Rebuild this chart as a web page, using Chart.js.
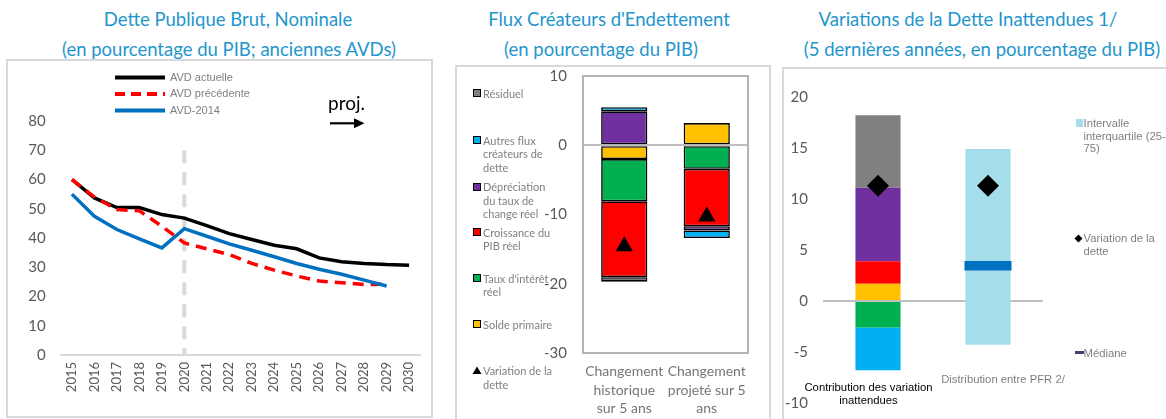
<!DOCTYPE html>
<html><head><meta charset="utf-8">
<script src="https://cdn.jsdelivr.net/npm/chart.js@4.4.0/dist/chart.umd.min.js"></script>
<style>
html,body{margin:0;padding:0;background:#fff}
body{width:1166px;height:419px;overflow:hidden;position:relative;font-family:Lato,sans-serif}
.title{position:absolute;color:#1F96CC;font-size:18.5px;line-height:22px;white-space:nowrap;transform:translateX(-50%)}
.box{position:absolute;border:2px solid #D9D9D9;box-sizing:border-box}
canvas{position:absolute}
.lg1{position:absolute;color:#808080;font:11px 'Liberation Sans',Arial,sans-serif;white-space:nowrap;line-height:13px}
.lg2{position:absolute;color:#808080;font-size:11px;line-height:13.5px;white-space:nowrap}
.sw{position:absolute;width:6px;height:6px;border:1.5px solid #000}
.lg3{position:absolute;color:#808080;font:11.3px 'Liberation Sans',Arial,sans-serif;line-height:12.5px;white-space:nowrap}
</style></head><body>

<!-- titles -->
<div class="title" style="left:228px;top:8px">Dette Publique Brut, Nominale</div>
<div class="title" style="left:229px;top:38px">(en pourcentage du PIB; anciennes AVDs)</div>
<div class="title" style="left:609px;top:8px">Flux Créateurs d'Endettement</div>
<div class="title" style="left:601px;top:38px">(en pourcentage du PIB)</div>
<div class="title" style="left:968px;top:8px">Variations de la Dette Inattendues 1/</div>
<div class="title" style="left:982px;top:38px">(5 dernières années, en pourcentage du PIB)</div>

<!-- panel boxes -->
<div class="box" style="left:6px;top:59px;width:427px;height:359px"></div>
<div class="box" style="left:455px;top:65px;width:316px;height:370px"></div>
<div class="box" style="left:782px;top:67px;width:400px;height:370px"></div>

<canvas id="c1" width="425" height="355" style="left:7px;top:60px"></canvas>
<canvas id="c2" width="314" height="353" style="left:456px;top:66px"></canvas>
<canvas id="c3" width="383" height="351" style="left:783px;top:68px"></canvas>

<!-- panel 1 legend -->
<svg style="position:absolute;left:0;top:0" width="440" height="140">
  <line x1="115" y1="77.5" x2="165" y2="77.5" stroke="#000" stroke-width="4"/>
  <line x1="115" y1="94" x2="165" y2="94" stroke="#FF0000" stroke-width="4" stroke-dasharray="10,6"/>
  <line x1="115" y1="110.5" x2="165" y2="110.5" stroke="#0070C0" stroke-width="4"/>
  <line x1="330" y1="123.3" x2="356" y2="123.3" stroke="#000" stroke-width="2.2"/>
  <polygon points="354,118.3 364.5,123.3 354,128.3" fill="#000"/>
</svg>
<div class="lg1" style="left:170px;top:71px">AVD actuelle</div>
<div class="lg1" style="left:170px;top:87px">AVD précédente</div>
<div class="lg1" style="left:170px;top:104px">AVD-2014</div>
<div style="position:absolute;left:328px;top:92px;font-size:19px;line-height:22px;color:#000">proj.</div>

<div id="leg2"></div>
<div id="leg3"></div>
<div id="xl3"></div>

<script>
// ---------- Panel 1 data ----------
const years = ['2015','2016','2017','2018','2019','2020','2021','2022','2023','2024','2025','2026','2027','2028','2029','2030'];
const avdActuelle   = [60, 53.7, 50.4, 50.4, 48.0, 46.8, 44.2, 41.5, 39.5, 37.5, 36.3, 33.2, 31.9, 31.3, 30.9, 30.7];
const avdPrecedente = [60, 54.0, 49.7, 49.3, 44.0, 38.3, 36.3, 34.3, 31.3, 29.0, 27.0, 25.3, 24.7, 24.1, 24.2];
const avd2014       = [55, 47.4, 42.9, 39.7, 36.6, 43.2, 40.6, 38.0, 35.8, 33.6, 31.3, 29.3, 27.6, 25.6, 23.6];
const projYear = '2020';

// ---------- Panel 2 data ----------
const fluxCategories = [['Changement','historique','sur 5 ans'], ['Changement','projeté sur 5','ans']];
const soldePrimaire  = [-2.0, 3.2];
const tauxInteret    = [-6.1, -3.4];
const croissancePIB  = [-10.95, -8.3];
const depreciation   = [4.9, -0.6];
const autresFlux     = [0.6, -1.1];
const residuel       = [-0.65, null];
const variationDette = [-14.6, -10.3];

// ---------- Panel 3 data ----------
const inattCategories = [['Contribution des variation','inattendues'], ['Distribution entre PFR 2/']];
const inSolde        = [1.7, null];
const inTaux         = [-2.6, null];
const inCroissance   = [2.2, null];
const inDepreciation = [7.2, null];
const inAutres       = [-4.2, null];
const inResiduel     = [7.1, null];
const interquartile  = [null, [-4.3, 14.9]];
const mediane        = [null, 3.45];
const inVariation    = [11.3, 11.3];

const COL = {solde:'#FFC000', taux:'#00B050', croiss:'#FF0000', dep:'#7030A0', autres:'#00B0F0', resid:'#808080'};
const CLEAR = 'rgba(0,0,0,0)';

Chart.defaults.font.family = 'Lato, sans-serif';
Chart.defaults.animation = false;
Chart.defaults.events = [];
Chart.defaults.plugins.legend.display = false;
Chart.defaults.plugins.tooltip.enabled = false;

// ---------- Chart 1 ----------
const vline = {
  id:'vline',
  beforeDatasetsDraw(chart){
    const {ctx, scales:{x,y}} = chart;
    const px = x.getPixelForValue(years.indexOf(projYear));
    ctx.save();
    ctx.strokeStyle = '#D9D9D9'; ctx.lineWidth = 4; ctx.setLineDash([13,9]);
    ctx.beginPath(); ctx.moveTo(px, y.getPixelForValue(70)); ctx.lineTo(px, y.getPixelForValue(0)); ctx.stroke();
    ctx.restore();
  }
};
new Chart(document.getElementById('c1'), {
  type:'line',
  data:{labels:years, datasets:[
    {label:'AVD-2014', data:avd2014, borderColor:'#0070C0', borderWidth:3.5, pointRadius:0, tension:0},
    {label:'AVD précédente', data:avdPrecedente, borderColor:'#FF0000', borderWidth:3.5, borderDash:[11,7], pointRadius:0, tension:0},
    {label:'AVD actuelle', data:avdActuelle, borderColor:'#000000', borderWidth:3.5, pointRadius:0, tension:0}
  ]},
  options:{
    responsive:false,
    layout:{autoPadding:false, padding:{left:0, right:9.7, top:61, bottom:0}},
    scales:{
      x:{offset:true, grid:{display:false, drawTicks:false}, border:{color:'#D9D9D9', width:2},
         ticks:{autoSkip:false, minRotation:90, maxRotation:90, padding:7, color:'#595959', font:{size:13}},
         afterFit(s){ s.height = 60; }},
      y:{min:0, max:80, grid:{drawOnChartArea:false, drawTicks:true, tickLength:15, tickColor:CLEAR, color:CLEAR}, border:{display:false},
         ticks:{stepSize:10, padding:0, color:'#595959', font:{size:15}},
         afterFit(s){ s.width = 53.7; }}
    }
  },
  plugins:[vline]
});

// ---------- Chart 2 ----------
const areaBorder = {
  id:'areaBorder',
  afterDraw(chart, args, opts){
    const {ctx, chartArea:{left,top,width,height}} = chart;
    ctx.save(); ctx.strokeStyle = opts.color; ctx.lineWidth = opts.width;
    ctx.strokeRect(left, top, width, height); ctx.restore();
  }
};
const barBase2 = {borderColor:'#000', borderWidth:1.6, borderSkipped:false, barPercentage:0.56, categoryPercentage:1, stack:'s'};
new Chart(document.getElementById('c2'), {
  type:'bar',
  data:{labels:fluxCategories, datasets:[
    {label:'Solde primaire', data:soldePrimaire, backgroundColor:COL.solde, ...barBase2},
    {label:"Taux d'intérêt réel", data:tauxInteret, backgroundColor:COL.taux, ...barBase2},
    {label:'Croissance du PIB réel', data:croissancePIB, backgroundColor:COL.croiss, ...barBase2},
    {label:'Dépréciation du taux de change réel', data:depreciation, backgroundColor:COL.dep, ...barBase2},
    {label:'Autres flux créateurs de dette', data:autresFlux, backgroundColor:COL.autres, ...barBase2},
    {label:'Résiduel', data:residuel, backgroundColor:COL.resid, ...barBase2},
    {type:'line', label:'Variation de la dette', data:variationDette, showLine:false, pointStyle:'triangle',
     pointRadius:10, pointBackgroundColor:'#000', pointBorderColor:'#000', pointBorderWidth:0, stack:'m', order:-1}
  ]},
  options:{
    responsive:false,
    layout:{autoPadding:false, padding:{left:0, right:22, top:10, bottom:0}},
    scales:{
      x:{stacked:true, grid:{display:false, drawTicks:false}, border:{display:false},
         ticks:{maxRotation:0, autoSkip:false, padding:9, color:'#767676', font:{size:14, lineHeight:1.34}},
         afterFit(s){ s.height = 66; }},
      y:{stacked:true, min:-30, max:10, z:1,
         grid:{drawTicks:true, tickLength:16, tickColor:CLEAR, lineWidth:2, color:c => c.tick && c.tick.value === 0 ? '#BFBFBF' : CLEAR},
         border:{display:false},
         ticks:{stepSize:10, padding:0, color:'#595959', font:{size:15}},
         afterFit(s){ s.width = 127; }}
    },
    plugins:{areaBorder:{color:'#B4B4B4', width:2}}
  },
  plugins:[areaBorder]
});

// Panel 2 legend (HTML)
const leg2 = [
  {c:COL.resid,  t:['Résiduel'], y:93.3},
  {c:COL.autres, t:['Autres flux','créateurs de','dette'], y:140.3},
  {c:COL.dep,    t:['Dépréciation','du taux de','change réel'], y:187},
  {c:COL.croiss, t:['Croissance du','PIB réel'], y:232.3},
  {c:COL.taux,   t:["Taux d'intérêt",'réel'], y:278.3},
  {c:COL.solde,  t:['Solde primaire'], y:324.3},
  {c:null,       t:['Variation de la','dette'], y:371}
];
let h2 = '';
leg2.forEach(it => {
  if (it.c) h2 += `<div class="sw" style="left:473px;top:${it.y-4.5}px;background:${it.c}"></div>`;
  else h2 += `<svg style="position:absolute;left:472px;top:${it.y-5}px" width="10" height="9"><polygon points="5,0.5 9.5,8 0.5,8" fill="#000"/></svg>`;
  h2 += `<div class="lg2" style="left:483px;top:${it.y-6.75}px">${it.t.join('<br>')}</div>`;
});
document.getElementById('leg2').innerHTML = h2;

// ---------- Chart 3 ----------
const barBase3 = {borderWidth:0, barPercentage:0.41, categoryPercentage:1, stack:'s'};
new Chart(document.getElementById('c3'), {
  type:'bar',
  data:{labels:inattCategories, datasets:[
    {label:'Solde primaire', data:inSolde, backgroundColor:COL.solde, ...barBase3},
    {label:"Taux d'intérêt réel", data:inTaux, backgroundColor:COL.taux, ...barBase3},
    {label:'Croissance du PIB réel', data:inCroissance, backgroundColor:COL.croiss, ...barBase3},
    {label:'Dépréciation du taux de change réel', data:inDepreciation, backgroundColor:COL.dep, ...barBase3},
    {label:'Autres flux', data:inAutres, backgroundColor:COL.autres, ...barBase3},
    {label:'Résiduel', data:inResiduel, backgroundColor:COL.resid, ...barBase3},
    {label:'Intervalle interquartile (25-75)', data:interquartile, backgroundColor:'#A6DDEA', ...barBase3},
    {type:'line', label:'Médiane', data:mediane, showLine:false, pointStyle:'line', pointRadius:23.5,
     pointBorderColor:'#0070C0', pointBorderWidth:9.5, stack:'m1', order:-1},
    {type:'line', label:'Variation de la dette', data:inVariation, showLine:false, pointStyle:'rectRot', pointRadius:11,
     pointBackgroundColor:'#000', pointBorderColor:'#000', pointBorderWidth:0, stack:'m2', order:-2}
  ]},
  options:{
    responsive:false,
    layout:{autoPadding:false, padding:{left:0, right:123, top:29, bottom:16}},
    scales:{
      x:{display:false, stacked:true},
      y:{stacked:true, min:-10, max:20, z:1,
         grid:{drawTicks:true, tickLength:15, tickColor:CLEAR, lineWidth:2, color:c => c.tick && c.tick.value === 0 ? '#BFBFBF' : CLEAR},
         border:{display:false},
         ticks:{stepSize:5, padding:0, color:'#595959', font:{size:15}},
         afterFit(s){ s.width = 40; }}
    }
  }
});

// Panel 3 category labels and legend (HTML)
document.getElementById('xl3').innerHTML =
  `<div class="lg3" style="left:868.5px;top:381px;color:#000;text-align:center;transform:translateX(-50%);line-height:12.7px">${inattCategories[0].join('<br>')}</div>` +
  `<div class="lg3" style="left:1003px;top:373px;text-align:center;transform:translateX(-50%)">${inattCategories[1].join('<br>')}</div>`;
document.getElementById('leg3').innerHTML =
  `<div style="position:absolute;left:1075.5px;top:119px;width:7.5px;height:7.5px;background:#A6DDEA"></div>` +
  `<div class="lg3" style="left:1083.5px;top:117px">Intervalle<br>interquartile (25-<br>75)</div>` +
  `<svg style="position:absolute;left:1074px;top:233.5px" width="10" height="10"><polygon points="4.5,0.5 8.5,4.5 4.5,8.5 0.5,4.5" fill="#000"/></svg>` +
  `<div class="lg3" style="left:1083.5px;top:232px">Variation de la<br>dette</div>` +
  `<div style="position:absolute;left:1074.5px;top:351px;width:9px;height:3px;background:#4B3B6B"></div>` +
  `<div class="lg3" style="left:1083.5px;top:346.5px">Médiane</div>`;
</script>
</body></html>
